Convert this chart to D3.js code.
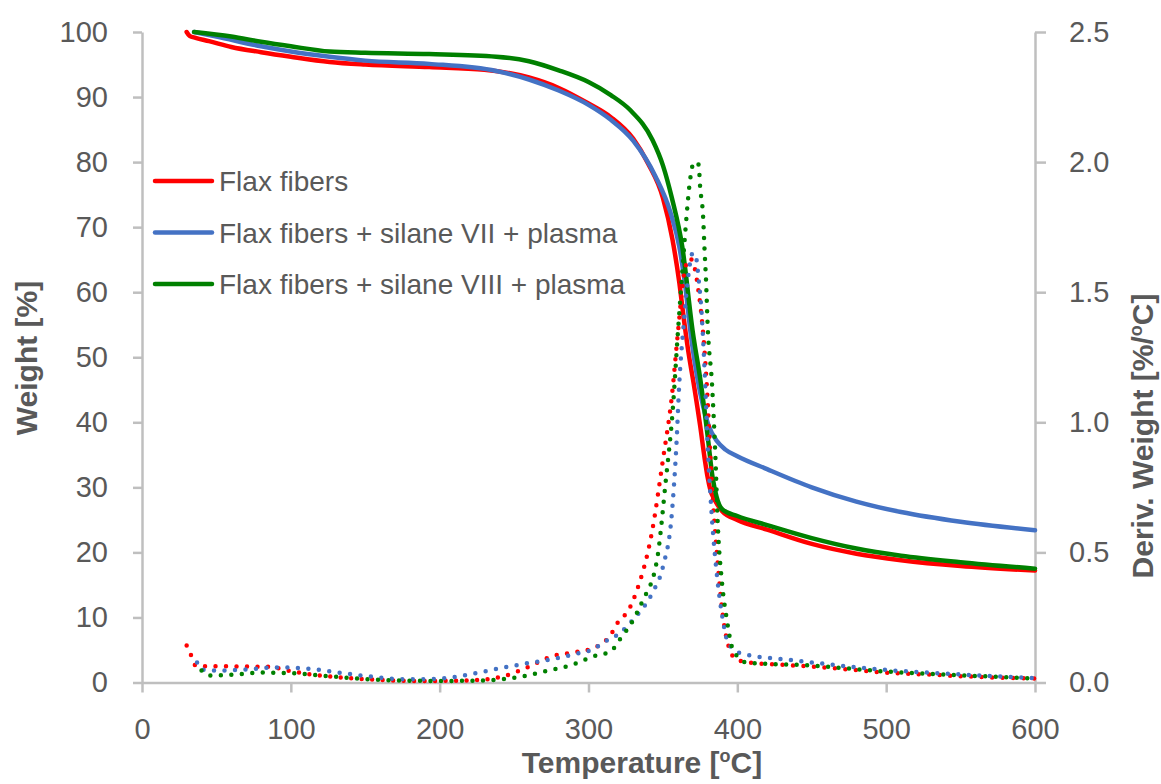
<!DOCTYPE html>
<html>
<head>
<meta charset="utf-8">
<script src="https://cdn.jsdelivr.net/npm/d3@7"></script>
<style>
  body { margin: 0; background: #fff; }
  text { font-family: "Liberation Sans", Arial, sans-serif; fill: #595959; }
</style>
</head>
<body>
<div id="container"></div>
<script>
let w = 1161;
let h = 784;

// series names (legend order)
let seriesNames = ["Flax fibers", "Flax fibers + silane VII + plasma", "Flax fibers + silane VIII + plasma"];

// weight curves (TG), temperature in C, weight in %
let flaxT = [30, 32, 36, 45, 60, 80, 100, 126, 150, 193, 230, 260, 280, 300, 315, 330, 340, 350, 356.5, 361, 364, 367, 371, 375, 378, 380, 382, 385, 390, 400, 420, 450, 480, 510, 550, 600];
let flaxW = [100, 99.4, 99.1, 98.6, 97.7, 96.9, 96.2, 95.4, 95.0, 94.6, 94.2, 93.0, 91.4, 89.0, 86.9, 83.6, 79.8, 74.5, 68, 61.5, 56, 51, 45.5, 39.5, 34.5, 31.6, 29.5, 28.0, 26.3, 25.0, 23.5, 21.3, 19.8, 18.8, 17.9, 17.2];

let silane7T = [35, 50, 80, 100, 126, 150, 193, 238, 260, 280, 300, 315, 330, 345, 355, 361, 365, 369, 373, 377, 381, 386, 392, 400, 420, 450, 480, 510, 550, 600];
let silane7W = [100, 99.3, 97.8, 97.0, 96.2, 95.6, 95.1, 94.0, 92.7, 91.0, 88.8, 86.5, 83.3, 77.8, 72.3, 67, 61, 53, 47, 42.5, 39.3, 37.2, 35.8, 34.8, 32.8, 30.0, 27.8, 26.2, 24.7, 23.4];

let silane8T = [35, 60, 80, 100, 126, 150, 193, 238, 260, 280, 300, 315, 328, 343, 350, 356, 363, 370, 375.5, 380, 383.4, 386, 390, 400, 420, 450, 480, 510, 550, 600];
let silane8W = [100, 99.3, 98.5, 97.8, 97.0, 96.8, 96.6, 96.2, 95.5, 94.1, 92.3, 90.3, 88.0, 83.4, 79.5, 74.5, 67, 54, 46, 38, 31.5, 28.6, 26.6, 25.6, 24.2, 22.2, 20.6, 19.5, 18.5, 17.5];

// derivative curves (DTG), %/C
let flaxDT = [30, 33, 36, 45, 60, 85, 99, 115, 135, 160, 190, 220, 242, 260, 275, 289, 302, 314, 321, 326, 332, 343, 350, 356, 360, 364.5, 368, 371, 374, 376.6, 379.3, 382.7, 386.8, 390, 394.8, 399.5, 410, 430, 450, 475, 500, 530, 560, 600];
let flaxD = [0.142, 0.104, 0.065, 0.062, 0.062, 0.06, 0.045, 0.03, 0.019, 0.01, 0.006, 0.008, 0.023, 0.061, 0.1, 0.115, 0.13, 0.176, 0.242, 0.27, 0.346, 0.59, 0.856, 1.1, 1.34, 1.58, 1.63, 1.6, 1.5, 1.37, 1.16, 0.78, 0.46, 0.27, 0.127, 0.088, 0.075, 0.068, 0.061, 0.05, 0.038, 0.03, 0.022, 0.015];

let silane7DT = [37, 40, 50, 70, 90, 110, 130, 150, 180, 200, 220, 240, 260, 274, 295, 303, 310, 321, 330, 343, 350, 356, 359, 361, 364, 367, 370, 372, 374, 376, 378, 380, 382.7, 386.6, 390, 393, 398, 406, 433, 450, 496, 550, 600];
let silane7D = [0.077, 0.05, 0.046, 0.05, 0.058, 0.054, 0.04, 0.025, 0.012, 0.015, 0.031, 0.054, 0.075, 0.088, 0.115, 0.127, 0.154, 0.19, 0.242, 0.346, 0.445, 0.65, 0.906, 1.15, 1.38, 1.56, 1.65, 1.64, 1.55, 1.42, 1.2, 0.92, 0.65, 0.396, 0.25, 0.165, 0.125, 0.107, 0.088, 0.077, 0.05, 0.031, 0.017];

let silane8DT = [40, 45, 60, 80, 100, 130, 160, 200, 230, 255, 270, 290, 303, 315, 321, 330, 336, 346, 352, 356.5, 360, 362, 364.6, 366, 368, 371, 374, 375, 377, 378, 379, 380, 383, 385, 387, 389.5, 393, 397, 406, 450, 500, 550, 600];
let silane8D = [0.046, 0.027, 0.03, 0.038, 0.036, 0.022, 0.01, 0.006, 0.008, 0.023, 0.042, 0.07, 0.1, 0.12, 0.165, 0.24, 0.31, 0.47, 0.78, 1.04, 1.34, 1.5, 1.7, 1.8, 1.92, 2.0, 1.99, 1.905, 1.79, 1.66, 1.54, 1.38, 1.145, 0.906, 0.59, 0.396, 0.24, 0.127, 0.077, 0.065, 0.042, 0.028, 0.015];

let xTicks = [0, 100, 200, 300, 400, 500, 600];
let weightTicks = [0, 10, 20, 30, 40, 50, 60, 70, 80, 90, 100];
let derivTicks = [0, 0.5, 1.0, 1.5, 2.0, 2.5];

let colors = ["#ff0000", "#4472c4", "#008000"];

function zipUp(xs, ys) {
  return xs.map(function(x, i) { return { t: x, v: ys[i] }; });
}

let tgSeries = [zipUp(flaxT, flaxW), zipUp(silane7T, silane7W), zipUp(silane8T, silane8W)];
let dtgSeries = [zipUp(flaxDT, flaxD), zipUp(silane7DT, silane7D), zipUp(silane8DT, silane8D)];

let viz = d3.select("#container")
  .append("svg")
    .attr("width", w)
    .attr("height", h)
    .style("background-color", "white");

let plotLeft = 142, plotRight = 1035, plotTop = 32, plotBottom = 682.5;

let xScale = d3.scaleLinear().domain([0, 600]).range([plotLeft, plotRight]);
let yScale = d3.scaleLinear().domain([0, 100]).range([plotBottom, plotTop]);
let y2Scale = d3.scaleLinear().domain([0, 2.5]).range([plotBottom, plotTop]);

// axes
let xAxis = d3.axisBottom(xScale).tickValues(xTicks).tickFormat(d3.format("d"))
  .tickSize(10).tickSizeOuter(0).tickPadding(26);
let yAxis = d3.axisLeft(yScale).tickValues(weightTicks).tickFormat(d3.format("d"))
  .tickSize(9).tickSizeOuter(0).tickPadding(25);
let y2Axis = d3.axisRight(y2Scale).tickValues(derivTicks).tickFormat(d3.format(".1f"))
  .tickSize(11).tickSizeOuter(0).tickPadding(23);

let xAxisGroup = viz.append("g").attr("transform", "translate(0," + plotBottom + ")").call(xAxis);
let yAxisGroup = viz.append("g").attr("transform", "translate(" + plotLeft + ",0)").call(yAxis);
let y2AxisGroup = viz.append("g").attr("transform", "translate(" + plotRight + ",0)").call(y2Axis);

[xAxisGroup, yAxisGroup, y2AxisGroup].forEach(function(g) {
  g.select(".domain").attr("stroke", "#bfbfbf").attr("stroke-width", 2.5);
  g.selectAll(".tick line").attr("stroke", "#bfbfbf").attr("stroke-width", 2.5);
  g.selectAll(".tick text")
    .attr("fill", "#595959")
    .style("font-family", "'Liberation Sans', Arial, sans-serif")
    .style("font-size", "29px");
});

// lines
let line = d3.line()
  .x(function(d) { return xScale(d.t); })
  .y(function(d) { return yScale(d.v); })
  .curve(d3.curveMonotoneX);

let line2 = d3.line()
  .x(function(d) { return xScale(d.t); })
  .y(function(d) { return y2Scale(d.v); })
  .curve(d3.curveMonotoneX);

viz.append("g").selectAll("path.tg")
  .data(tgSeries)
  .enter()
  .append("path")
    .attr("class", "tg")
    .attr("d", line)
    .attr("fill", "none")
    .attr("stroke", function(d, i) { return colors[i]; })
    .attr("stroke-width", 4.5)
    .attr("stroke-linecap", "round");

viz.append("g").selectAll("path.dtg")
  .data(dtgSeries)
  .enter()
  .append("path")
    .attr("class", "dtg")
    .attr("d", line2)
    .attr("fill", "none")
    .attr("stroke", function(d, i) { return colors[i]; })
    .attr("stroke-width", 4.5)
    .attr("stroke-linecap", "round")
    .attr("stroke-dasharray", "0 10.5");

// legend
let legend = viz.append("g");
seriesNames.forEach(function(name, i) {
  let ly = 181 + i * 51.5;
  legend.append("line")
    .attr("x1", 155).attr("x2", 212)
    .attr("y1", ly).attr("y2", ly)
    .attr("stroke", colors[i])
    .attr("stroke-width", 4.5)
    .attr("stroke-linecap", "round");
  legend.append("text")
    .attr("x", 219)
    .attr("y", ly + 10)
    .style("font-size", "28px")
    .text(name);
});

// axis titles
let xTitle = viz.append("text")
  .attr("x", 642)
  .attr("y", 773)
  .attr("text-anchor", "middle")
  .style("font-size", "30px")
  .style("font-weight", "bold");
xTitle.append("tspan").text("Temperature [");
xTitle.append("tspan").attr("dy", -11).style("font-size", "18px").text("o");
xTitle.append("tspan").attr("dy", 11).text("C]");

viz.append("text")
  .attr("transform", "translate(37,358) rotate(-90)")
  .attr("text-anchor", "middle")
  .style("font-size", "30px")
  .style("font-weight", "bold")
  .text("Weight [%]");

let y2Title = viz.append("text")
  .attr("transform", "translate(1153,436) rotate(-90)")
  .attr("text-anchor", "middle")
  .style("font-size", "30px")
  .style("font-weight", "bold");
y2Title.append("tspan").text("Deriv. Weight [%/");
y2Title.append("tspan").attr("dy", -11).style("font-size", "18px").text("o");
y2Title.append("tspan").attr("dy", 11).text("C]");
</script>
</body>
</html>
